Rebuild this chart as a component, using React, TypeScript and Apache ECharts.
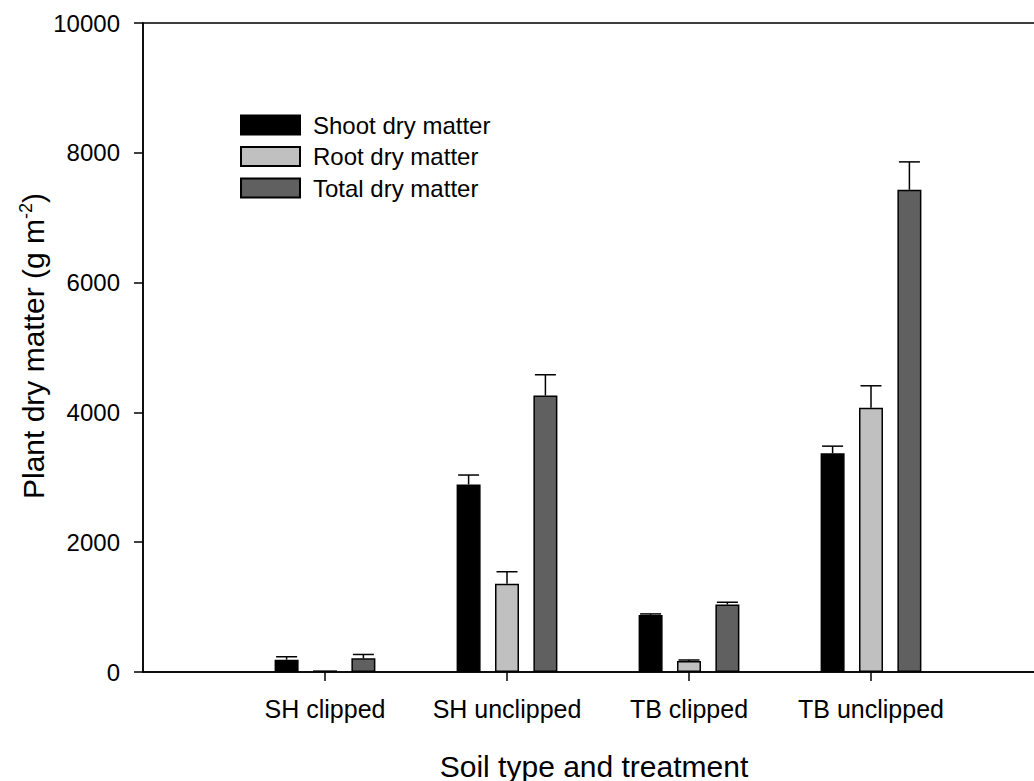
import React, { useEffect, useRef } from "react";
import * as echarts from "echarts";

// Treatments along the x axis
const categories = ["SH clipped", "SH unclipped", "TB clipped", "TB unclipped"];

// Dry matter means (g m-2) and their standard errors
const shoot = [190, 2890, 880, 3370];
const shootErr = [45, 145, 15, 110];
const root = [25, 1360, 170, 4070];
const rootErr = [0, 185, 15, 340];
const total = [210, 4260, 1040, 7430];
const totalErr = [60, 320, 35, 430];

const yTicks = { min: 0, max: 10000, interval: 2000 };

const FONT = 'Arial, "Liberation Sans", sans-serif';
const BAR_W = 24;
const BAR_GAP = 0.6;
const SERIES_OFFSET = BAR_W * (1 + BAR_GAP);

// Axis runs from one empty slot before the first treatment to one after the last
const axisData = ["", ...categories, ""];

function padded(values: number[]) {
  return ["-", ...values, "-"] as (number | string)[];
}

function errorSeries(name: string, values: number[], errs: number[], shift: number) {
  return {
    type: "custom",
    name: name + " error",
    z: 5,
    silent: true,
    data: values.map((v, i) => [i + 1, v, errs[i]]),
    renderItem: (params: any, api: any) => {
      const e = api.value(2);
      if (!e) return null;
      const base = api.coord([api.value(0), api.value(1)]);
      const top = api.coord([api.value(0), api.value(1) + e]);
      const x = base[0] + shift;
      const cap = 10.5;
      const style = { stroke: "#000", lineWidth: 1.5 };
      return {
        type: "group",
        children: [
          { type: "line", shape: { x1: x, y1: base[1], x2: x, y2: top[1] }, style },
          { type: "line", shape: { x1: x - cap, y1: top[1], x2: x + cap, y2: top[1] }, style },
        ],
      };
    },
  };
}

function barSeries(name: string, values: number[], color: string) {
  return {
    type: "bar",
    name,
    data: padded(values),
    barWidth: BAR_W,
    barGap: `${BAR_GAP * 100}%`,
    itemStyle: { color, borderColor: "#000", borderWidth: 1.5 },
  };
}

export default function App() {
  const ref = useRef<HTMLDivElement>(null);

  useEffect(() => {
    if (!ref.current) return;
    const chart = echarts.init(ref.current, null, { renderer: "svg" });
    chart.setOption({
      animation: false,
      backgroundColor: "#fff",
      textStyle: { fontFamily: FONT, color: "#000" },
      grid: {
        left: 143,
        right: 0,
        top: 23,
        bottom: 109,
        show: true,
        borderColor: "#000",
        borderWidth: 1.5,
        backgroundColor: "transparent",
      },
      legend: {
        orient: "vertical",
        left: 240,
        top: 113,
        padding: 0,
        itemWidth: 59,
        itemHeight: 19,
        itemGap: 7.5,
        icon: "rect",
        data: ["Shoot dry matter", "Root dry matter", "Total dry matter"],
        textStyle: { fontFamily: FONT, fontSize: 24, color: "#000", padding: [0, 0, 0, 8] },
      },
      xAxis: {
        type: "category",
        data: axisData,
        boundaryGap: false,
        axisLine: { lineStyle: { color: "#000", width: 1.5 } },
        axisTick: {
          show: true,
          length: 9,
          interval: (i: number) => i >= 1 && i <= categories.length,
          lineStyle: { color: "#000", width: 1.5 },
        },
        axisLabel: { interval: 0, fontSize: 25, color: "#000", margin: 24, fontFamily: FONT },
        splitLine: { show: false },
      },
      yAxis: {
        type: "value",
        min: yTicks.min,
        max: yTicks.max,
        interval: yTicks.interval,
        axisLine: { show: true, lineStyle: { color: "#000", width: 1.5 } },
        axisTick: { show: true, length: 9, lineStyle: { color: "#000", width: 1.5 } },
        axisLabel: {
          fontSize: 24,
          color: "#000",
          margin: 23,
          fontFamily: FONT,
          formatter: (v: number) => String(v),
        },
        splitLine: { show: false },
      },
      graphic: [
        {
          type: "text",
          x: 594,
          y: 766,
          style: {
            text: "Soil type and treatment",
            fontSize: 30,
            fontFamily: FONT,
            fill: "#000",
            align: "center",
            verticalAlign: "middle",
          },
        },
        {
          type: "text",
          x: 33,
          y: 346,
          rotation: Math.PI / 2,
          style: {
            text: "{a|Plant dry matter (g m}{s|-2}{a|)}",
            align: "center",
            verticalAlign: "middle",
            fill: "#000",
            rich: {
              a: { fontSize: 30, fontFamily: FONT, fill: "#000" },
              s: { fontSize: 18, fontFamily: FONT, fill: "#000", padding: [0, 0, 14, 0] },
            },
          },
        },
      ],
      series: [
        barSeries("Shoot dry matter", shoot, "#000000"),
        barSeries("Root dry matter", root, "#c0c0c0"),
        barSeries("Total dry matter", total, "#606060"),
        errorSeries("Shoot dry matter", shoot, shootErr, -SERIES_OFFSET),
        errorSeries("Root dry matter", root, rootErr, 0),
        errorSeries("Total dry matter", total, totalErr, SERIES_OFFSET),
      ],
    });
    return () => chart.dispose();
  }, []);

  // The plot frame runs past the right edge of the visible area, so the chart
  // is drawn wider than the window and clipped.
  return (
    <div
      style={{
        position: "fixed",
        left: 0,
        top: 0,
        width: 1034,
        height: 781,
        overflow: "hidden",
        background: "#fff",
      }}
    >
      <div ref={ref} style={{ width: 1056, height: 781 }} />
    </div>
  );
}
